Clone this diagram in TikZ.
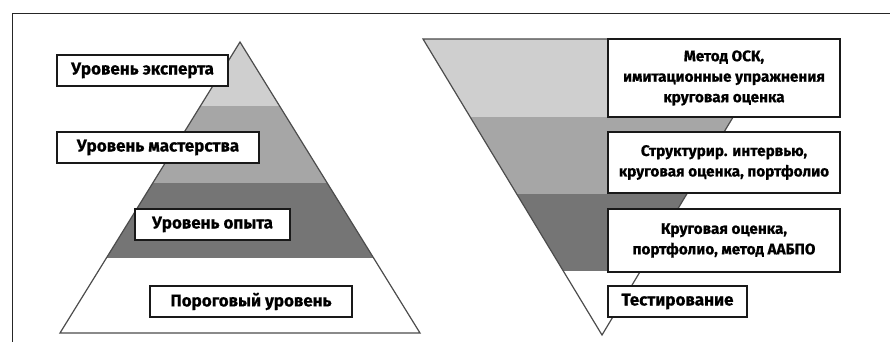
\documentclass[tikz,border=0pt]{standalone}
\usepackage{fontspec}
\setmainfont{Fira Sans}[BoldFeatures={FakeBold=0.6}]
\begin{document}
\begin{tikzpicture}[x=1pt,y=-1pt,
  lbl/.style={draw=black!90,line width=2pt,fill=white,inner sep=0pt,align=center,
    font=\fontsize{17}{20.5}\selectfont\bfseries},
  lbm/.style={lbl,font=\fontsize{15.3}{20.5}\selectfont\bfseries},
  tri/.style={draw=black!70,line width=1.2pt,line join=miter},
  bandA/.style={fill=black!19},
  bandB/.style={fill=black!35},
  bandC/.style={fill=black!54}]
\useasboundingbox (0,0) rectangle (890,342);
% frame
\draw[line width=1pt,black!85] (12.5,342) -- (12.5,13.5) -- (890,13.5);
% left pyramid
\coordinate (pa) at (240,42);
\coordinate (pl) at (60,333);
\coordinate (pr) at (420,333);
\begin{scope}
  \clip (pa) -- (pl) -- (pr) -- cycle;
  \fill[bandA] (0,30) rectangle (450,106);
  \fill[bandB] (0,106) rectangle (450,183);
  \fill[bandC] (0,183) rectangle (450,258);
\end{scope}
\draw[tri] (pa) -- (pl) -- (pr) -- cycle;
% right inverted pyramid
\coordinate (ql) at (423,39);
\coordinate (qr) at (780,39);
\coordinate (qa) at (602,335);
\begin{scope}
  \clip (ql) -- (qr) -- (qa) -- cycle;
  \fill[bandA] (400,30) rectangle (800,117);
  \fill[bandB] (400,117) rectangle (800,194);
  \fill[bandC] (400,194) rectangle (800,271);
\end{scope}
\draw[tri] (ql) -- (qr) -- (qa) -- cycle;
% left labels
\node[lbl,minimum width=171pt,minimum height=31pt] (l1) at (142.5,70.5) {Уровень эксперта};
\node[lbl,minimum width=202pt,minimum height=31pt] (l2) at (158,147.5) {Уровень мастерства};
\node[lbl,minimum width=155pt,minimum height=31pt] (l3) at (212.5,224.5) {Уровень опыта};
\node[lbl,minimum width=202pt,minimum height=31pt] (l4) at (251,301.5) {Пороговый уровень};
% right labels
\node[lbm,minimum width=232pt,minimum height=78pt] (r1) at (724,78) {Метод ОСК,\\имитационные упражнения\\круговая оценка};
\node[lbm,minimum width=232pt,minimum height=61pt] (r2) at (724,162.5) {Структурир. интервью,\\круговая оценка, портфолио};
\node[lbm,minimum width=232pt,minimum height=63pt] (r3) at (724,240.5) {Круговая оценка,\\портфолио, метод ААБПО};
\node[lbl,minimum width=139pt,minimum height=31pt] (r4) at (677.5,301.5) {Тестирование};
\end{tikzpicture}
\end{document}
